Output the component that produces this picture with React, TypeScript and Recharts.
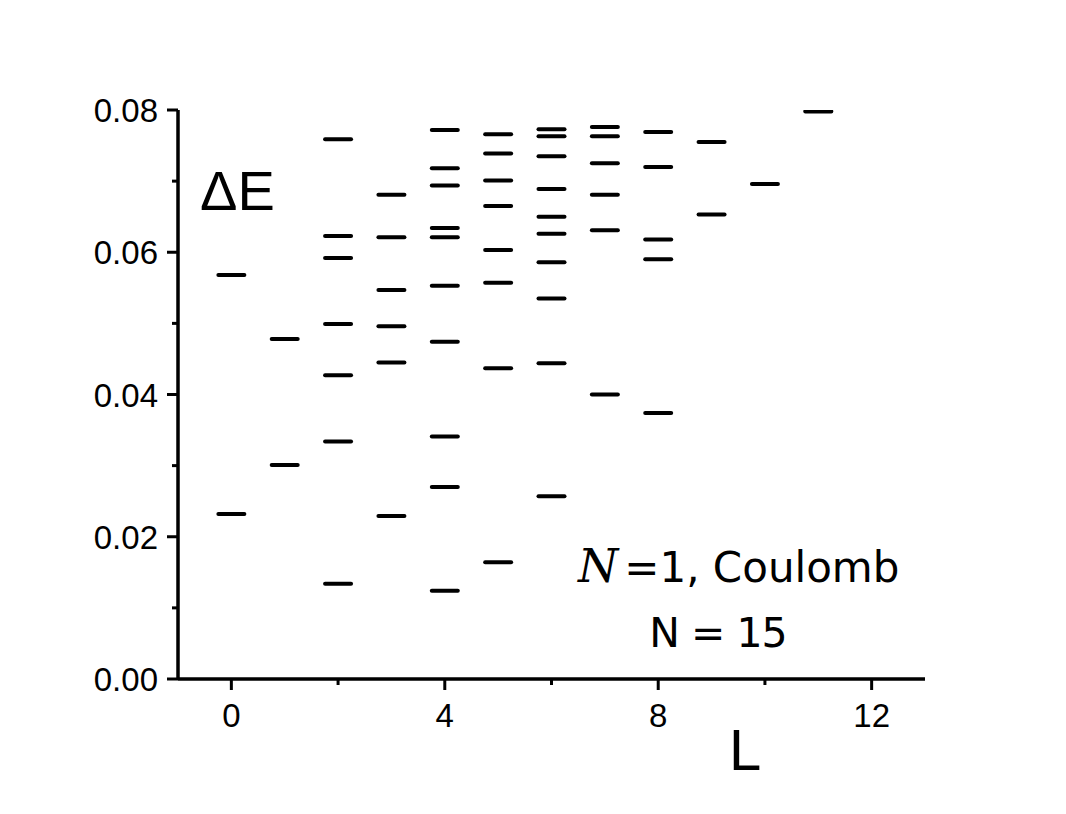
import { Scatter, ScatterChart, XAxis, YAxis } from "recharts";

// energy gaps ΔE read for each angular momentum L
const levelsL0 = [0.0568, 0.0232];
const levelsL1 = [0.0478, 0.0301];
const levelsL2 = [0.0759, 0.0623, 0.0592, 0.0499, 0.0427, 0.0334, 0.0134];
const levelsL3 = [0.0681, 0.0621, 0.0547, 0.0496, 0.0445, 0.0229];
const levelsL4 = [0.0772, 0.0718, 0.0694, 0.0634, 0.0621, 0.0553, 0.0474, 0.0341, 0.027, 0.0124];
const levelsL5 = [0.0766, 0.0739, 0.0701, 0.0665, 0.0603, 0.0557, 0.0437, 0.0164];
const levelsL6 = [0.0773, 0.0763, 0.0735, 0.0689, 0.065, 0.0626, 0.0586, 0.0535, 0.0444, 0.0257];
const levelsL7 = [0.0776, 0.0763, 0.0725, 0.0681, 0.0631, 0.04];
const levelsL8 = [0.0769, 0.072, 0.0618, 0.059, 0.0374];
const levelsL9 = [0.0755, 0.0653];
const levelsL10 = [0.0696];
const levelsL11 = [0.0798];

const levelsByL = [
  levelsL0, levelsL1, levelsL2, levelsL3, levelsL4, levelsL5,
  levelsL6, levelsL7, levelsL8, levelsL9, levelsL10, levelsL11,
];

const xTicks = [0, 2, 4, 6, 8, 10, 12];
const xMajor = [0, 4, 8, 12];
const yTicks = [0, 0.01, 0.02, 0.03, 0.04, 0.05, 0.06, 0.07, 0.08];
const yMajor = [0, 0.02, 0.04, 0.06, 0.08];

const points = levelsByL.flatMap((levels, L) => levels.map((dE) => ({ L, dE })));

const FONT = "'Liberation Sans', Arial, sans-serif";

const Dash = (props: any) => {
  const { cx, cy } = props;
  return (
    <line x1={cx - 13} x2={cx + 13} y1={cy} y2={cy} stroke="#000" strokeWidth={4} strokeLinecap="round" />
  );
};

const XTick = (props: any) => {
  const { x, y, payload } = props;
  const major = xMajor.includes(payload.value);
  return (
    <g>
      <line x1={x} x2={x} y1={y} y2={y + (major ? 11 : 6)} stroke="#000" strokeWidth={3} />
      {major && (
        <text x={x} y={y + 48} textAnchor="middle" fontSize={33} fontFamily={FONT} fill="#000">
          {payload.value}
        </text>
      )}
    </g>
  );
};

const YTick = (props: any) => {
  const { x, y, payload } = props;
  const major = yMajor.some((v) => Math.abs(v - payload.value) < 1e-9);
  return (
    <g>
      <line x1={x - (major ? 11 : 6)} x2={x} y1={y} y2={y} stroke="#000" strokeWidth={3} />
      {major && (
        <text x={x - 20} y={y + 12} textAnchor="end" fontSize={33} fontFamily={FONT} fill="#000">
          {payload.value.toFixed(2)}
        </text>
      )}
    </g>
  );
};

export default function App() {
  return (
    <div style={{ position: "absolute", left: 0, top: 0, width: 1066, height: 814, background: "#fff" }}>
      <ScatterChart width={1066} height={814} margin={{ top: 110, right: 141, bottom: 0, left: 0 }}>
        <XAxis
          type="number"
          dataKey="L"
          domain={[-1, 13]}
          ticks={xTicks}
          interval={0}
          tickSize={0}
          tickMargin={0}
          tickLine={false}
          tick={<XTick />}
          height={135}
          axisLine={{ stroke: "#000", strokeWidth: 3.5 }}
          allowDataOverflow
        />
        <YAxis
          type="number"
          dataKey="dE"
          domain={[0, 0.08]}
          ticks={yTicks}
          interval={0}
          tickSize={0}
          tickMargin={0}
          tickLine={false}
          tick={<YTick />}
          width={178}
          axisLine={{ stroke: "#000", strokeWidth: 3.5 }}
          allowDataOverflow
        />
        <Scatter data={points} shape={<Dash />} isAnimationActive={false} />
      </ScatterChart>
      <svg
        width={1066}
        height={814}
        style={{ position: "absolute", left: 0, top: 0, pointerEvents: "none" }}
      >
        <text x={200} y={210} fontSize={56} fontFamily={FONT} fill="#000">
          ΔE
        </text>
        <text x={729} y={770} fontSize={58} fontFamily={FONT} fill="#000">
          L
        </text>
        <text x={578} y={582} fontSize={42} fontFamily="'DejaVu Sans', sans-serif" fill="#000">
          <tspan fontFamily="'DejaVu Serif', serif" fontStyle="italic" fontSize={46}>
            N
          </tspan>
          <tspan dx={6}>=1, Coulomb</tspan>
        </text>
        <text
          x={718}
          y={647}
          textAnchor="middle"
          fontSize={41}
          letterSpacing={-1}
          fontFamily="'DejaVu Sans', sans-serif"
          fill="#000"
        >
          N = 15
        </text>
      </svg>
    </div>
  );
}
